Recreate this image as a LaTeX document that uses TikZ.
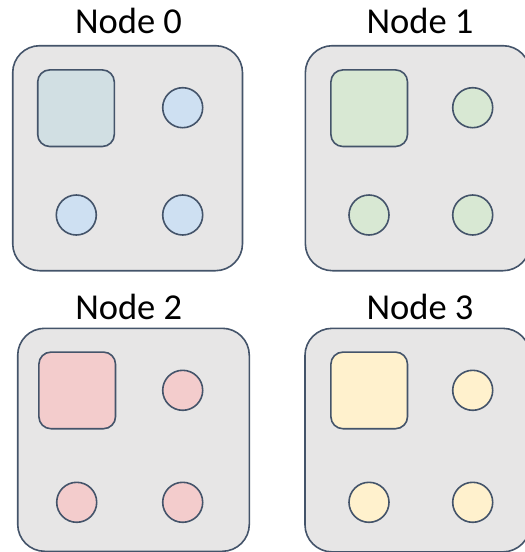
\documentclass[tikz,border=0pt]{standalone}
\usepackage{fontspec}
\setmainfont{Carlito}
\definecolor{panelfill}{HTML}{E7E6E6}
\definecolor{edge}{HTML}{44546A}
\definecolor{blueA}{HTML}{D1DFE3}
\definecolor{blueB}{HTML}{CEE0F2}
\definecolor{greenA}{HTML}{D8E8D3}
\definecolor{greenB}{HTML}{D8E8D3}
\definecolor{redA}{HTML}{F3CCCC}
\definecolor{redB}{HTML}{F3CCCC}
\definecolor{yellowA}{HTML}{FFF1CD}
\definecolor{yellowB}{HTML}{FFF1CD}
\tikzset{
  panel/.style={draw=edge, fill=panelfill, line width=1.6pt, rounded corners=27pt,
    rectangle, inner sep=0pt, outer sep=0pt},
  chip/.style={draw=edge, line width=1.6pt, rounded corners=12pt, rectangle,
    minimum size=76.6pt, inner sep=0pt},
  core/.style={draw=edge, line width=1.6pt, circle, minimum size=40pt, inner sep=0pt},
  title/.style={font=\fontsize{36.5}{42}\selectfont, anchor=base, inner sep=0pt}
}
\begin{document}
\begin{tikzpicture}[x=1pt, y=-1pt]
\useasboundingbox (0,0) rectangle (525,552);

% Node 0
\node[title] (t0) at (128.5,33.3) {Node 0};
\node[panel, minimum width=229.8pt, minimum height=225pt] (p0) at (127.6,158.2) {};
\node[chip, fill=blueA] (s0) at (76,108.2) {};
\node[core, fill=blueB] (c0a) at (182.7,107.7) {};
\node[core, fill=blueB] (c0b) at (76.3,215) {};
\node[core, fill=blueB] (c0c) at (182.7,215) {};

% Node 1
\node[title] (t1) at (420,33.3) {Node 1};
\node[panel, minimum width=224.7pt, minimum height=225pt] (p1) at (417.7,158.2) {};
\node[chip, fill=greenA] (s1) at (369.2,108.2) {};
\node[core, fill=greenB] (c1a) at (472.7,107.7) {};
\node[core, fill=greenB] (c1b) at (369,215) {};
\node[core, fill=greenB] (c1c) at (472.7,215) {};

% Node 2
\node[title] (t2) at (128.7,319.3) {Node 2};
\node[panel, minimum width=231.6pt, minimum height=223pt] (p2) at (133.5,439.8) {};
\node[chip, fill=redA] (s2) at (77.2,390.4) {};
\node[core, fill=redB] (c2a) at (182.7,390.3) {};
\node[core, fill=redB] (c2b) at (76.7,502.3) {};
\node[core, fill=redB] (c2c) at (182.7,502.3) {};

% Node 3
\node[title] (t3) at (420,319.3) {Node 3};
\node[panel, minimum width=225pt, minimum height=223.5pt] (p3) at (417.5,440.1) {};
\node[chip, fill=yellowA] (s3) at (369.2,390.4) {};
\node[core, fill=yellowB] (c3a) at (472.7,390.3) {};
\node[core, fill=yellowB] (c3b) at (369,502.3) {};
\node[core, fill=yellowB] (c3c) at (472.7,502.3) {};
\end{tikzpicture}
\end{document}
